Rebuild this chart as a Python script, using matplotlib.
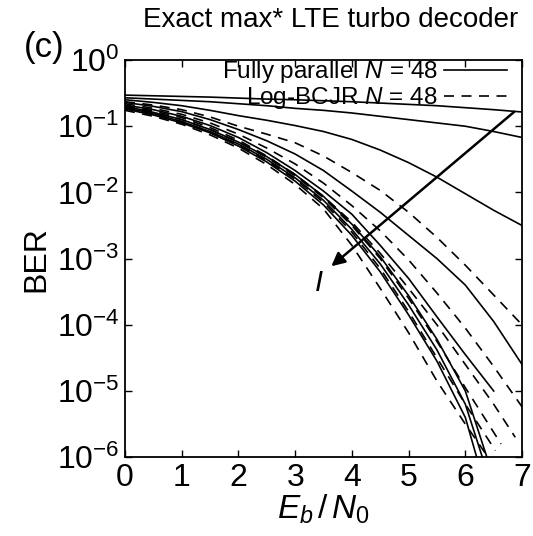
import numpy as np
import matplotlib
matplotlib.use('Agg')
import matplotlib.pyplot as plt
from matplotlib.lines import Line2D

# Eb/N0 grid (dB) shared by the curves that run to 7 dB
eb_full = [0, 0.5, 1, 1.5, 2, 2.5, 3, 3.5, 4, 4.5, 5, 5.5, 6, 6.5, 7]

# log10(BER), fully parallel (solid)
fp_1 = [-0.53, -0.54, -0.55, -0.56, -0.575, -0.59, -0.6, -0.615, -0.63, -0.65, -0.67, -0.69, -0.72, -0.75, -0.785]
fp_2 = [-0.57, -0.59, -0.61, -0.63, -0.66, -0.69, -0.73, -0.76, -0.8, -0.85, -0.9, -0.95, -1.0, -1.08, -1.17]
fp_3 = [-0.6, -0.64, -0.69, -0.76, -0.84, -0.91, -0.99, -1.08, -1.2, -1.36, -1.55, -1.77, -2.02, -2.27, -2.5]
fp_4 = [-0.64, -0.7, -0.78, -0.9, -1.05, -1.22, -1.42, -1.67, -1.98, -2.3, -2.65, -3.0, -3.4, -3.95, -4.6]
eb_fp_5 = [0, 0.5, 1, 1.5, 2, 2.5, 3, 3.5, 4, 4.5, 5, 5.5, 6, 6.5]
fp_5 = [-0.68, -0.75, -0.85, -0.99, -1.17, -1.4, -1.67, -1.98, -2.33, -2.8, -3.3, -3.88, -4.45, -5.0]
eb_fp_6 = [0, 0.5, 1, 1.5, 2, 2.5, 3, 3.5, 4, 4.5, 5, 5.5, 6, 6.38]
fp_6 = [-0.7, -0.79, -0.9, -1.05, -1.24, -1.46, -1.73, -2.06, -2.48, -2.97, -3.56, -4.22, -5.0, -6.0]
eb_fp_7 = [0, 0.5, 1, 1.5, 2, 2.5, 3, 3.5, 4, 4.5, 5, 5.5, 6, 6.3]
fp_7 = [-0.72, -0.81, -0.93, -1.08, -1.27, -1.5, -1.78, -2.12, -2.56, -3.08, -3.7, -4.38, -5.2, -6.0]
eb_fp_8 = [0, 0.5, 1, 1.5, 2, 2.5, 3, 3.5, 4, 4.5, 5, 5.5, 6, 6.2]
fp_8 = [-0.74, -0.83, -0.95, -1.1, -1.3, -1.54, -1.83, -2.19, -2.65, -3.2, -3.85, -4.55, -5.4, -6.0]

# log10(BER), Log-BCJR (dashed)
lb_1 = [-0.63, -0.68, -0.75, -0.86, -1.0, -1.12, -1.25, -1.45, -1.7, -1.97, -2.3, -2.68, -3.1, -3.55, -4.0]
lb_2 = [-0.66, -0.73, -0.82, -0.95, -1.12, -1.33, -1.57, -1.86, -2.2, -2.58, -3.02, -3.52, -4.05, -4.63, -5.24]
eb_lb_3 = [0, 0.5, 1, 1.5, 2, 2.5, 3, 3.5, 4, 4.5, 5, 5.5, 6, 6.5, 6.88]
lb_3 = [-0.69, -0.77, -0.87, -1.02, -1.21, -1.45, -1.73, -2.06, -2.45, -2.92, -3.45, -4.0, -4.6, -5.2, -5.7]
eb_lb_4 = [0, 0.5, 1, 1.5, 2, 2.5, 3, 3.5, 4, 4.5, 5, 5.5, 6, 6.63]
lb_4 = [-0.7, -0.79, -0.9, -1.05, -1.24, -1.47, -1.75, -2.08, -2.5, -3.0, -3.6, -4.25, -4.95, -5.8]
eb_lb_5 = [0, 0.5, 1, 1.5, 2, 2.5, 3, 3.5, 4, 4.5, 5, 5.5, 6, 6.53]
lb_5 = [-0.72, -0.81, -0.93, -1.09, -1.28, -1.52, -1.8, -2.15, -2.6, -3.15, -3.8, -4.5, -5.2, -5.9]
eb_lb_6 = [0, 0.5, 1, 1.5, 2, 2.5, 3, 3.5, 4, 4.5, 5, 5.5, 6, 6.4]
lb_6 = [-0.76, -0.85, -0.97, -1.13, -1.33, -1.58, -1.88, -2.25, -2.8, -3.45, -4.12, -4.85, -5.5, -6.0]

solid = [(eb_full, fp_1), (eb_full, fp_2), (eb_full, fp_3), (eb_full, fp_4),
         (eb_fp_5, fp_5), (eb_fp_6, fp_6), (eb_fp_7, fp_7), (eb_fp_8, fp_8)]
dashed = [(eb_full, lb_1), (eb_full, lb_2), (eb_lb_3, lb_3), (eb_lb_4, lb_4),
          (eb_lb_5, lb_5), (eb_lb_6, lb_6)]

xticks = [0, 1, 2, 3, 4, 5, 6, 7]
yticks = [1e-6, 1e-5, 1e-4, 1e-3, 1e-2, 1e-1, 1e0]

plt.rcParams['font.family'] = ['Liberation Sans', 'DejaVu Sans']
plt.rcParams['mathtext.fontset'] = 'custom'
plt.rcParams['mathtext.rm'] = 'Liberation Sans'
plt.rcParams['mathtext.it'] = 'Liberation Sans:italic'

dash = (0, (6, 4.5))

fig = plt.figure(figsize=(5.33, 5.36), dpi=100)
ax = fig.add_axes([0.2345, 0.147, 0.745, 0.741])

for x, y in solid:
    ax.plot(x, 10 ** np.array(y), color='black', lw=1.2)
for x, y in dashed:
    ax.plot(x, 10 ** np.array(y), color='black', lw=1.2, ls=dash)

ax.set_yscale('log')
ax.set_xlim(0, 7)
ax.set_ylim(1e-6, 1)
ax.set_xticks(xticks)
ax.set_yticks(yticks)
ax.minorticks_off()
ax.tick_params(axis='both', which='both', direction='in', top=True, right=True,
               labelsize=23, length=5, width=1, pad=4)
for s in ax.spines.values():
    s.set_linewidth(1.3)

ax.set_xlabel(r'$E_b\,/\,N_0$', fontsize=24, labelpad=0)
ax.set_ylabel('BER', fontsize=23, labelpad=4)
fig.text(0.62, 0.962, 'Exact max* LTE turbo decoder', fontsize=20, ha='center', va='center')
fig.text(0.045, 0.912, '(c)', fontsize=25, ha='left', va='center')

# arrow showing growth of I
ax.annotate('', xy=(3.6, 7.2e-4), xytext=(6.9, 0.176),
            arrowprops=dict(arrowstyle='-|>', color='black', lw=1.8, mutation_scale=20))
ax.text(3.42, 4.3e-4, '$I$', fontsize=21, ha='center', va='center')

handles = [Line2D([], [], color='black', lw=1.2),
           Line2D([], [], color='black', lw=1.2, ls=dash)]
labels = [r'Fully parallel $N$ = 48', r'Log-BCJR $N$ = 48']
ax.legend(handles, labels, loc='upper right', frameon=False, markerfirst=False,
          fontsize=17.5, handlelength=2.6, handletextpad=0.25, labelspacing=0.0,
          borderaxespad=0.0, borderpad=0.05, bbox_to_anchor=(0.965, 1.005))

fig.savefig('out.png', dpi=100)
